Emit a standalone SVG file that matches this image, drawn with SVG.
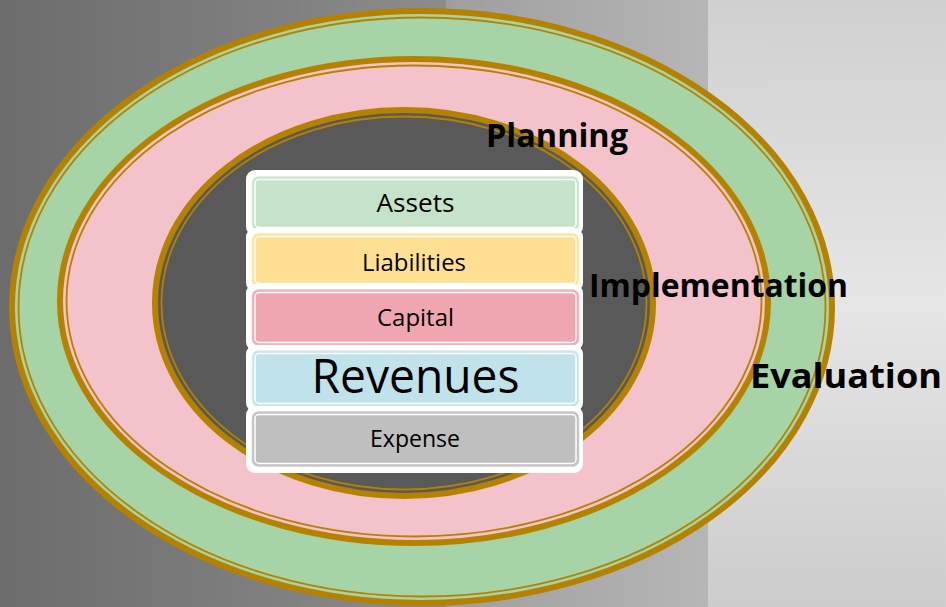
<svg xmlns="http://www.w3.org/2000/svg" width="946" height="607" viewBox="0 0 946 607">
<defs>
<linearGradient id="bg1" x1="0" y1="0" x2="1" y2="0">
<stop offset="0" stop-color="#6c6c6c"/><stop offset="1" stop-color="#8c8c8c"/>
</linearGradient>
<linearGradient id="bg2" x1="0" y1="0" x2="1" y2="0">
<stop offset="0" stop-color="#9e9e9e"/><stop offset="1" stop-color="#b6b6b6"/>
</linearGradient>
<linearGradient id="bg3" x1="0" y1="0" x2="0" y2="1">
<stop offset="0" stop-color="#d0d0d0"/><stop offset="0.5" stop-color="#e6e6e6"/><stop offset="1" stop-color="#cccccc"/>
</linearGradient>
<style>
.thick{fill:none;stroke:#b58200;stroke-width:6}
.thin{fill:none;stroke:#b58200;stroke-width:1.8}
.wbox{fill:#ffffff}
.lbl{font-family:"Open Sans","Noto Sans",sans-serif;fill:#000;text-anchor:middle}
.big{font-family:"Open Sans","Noto Sans",sans-serif;font-weight:bold;fill:#000}
.inner{stroke:#ffffff;stroke-width:1.5}
</style>
</defs>
<rect x="0" y="0" width="446" height="607" fill="url(#bg1)"/>
<rect x="446" y="0" width="262" height="607" fill="url(#bg2)"/>
<rect x="708" y="0" width="238" height="607" fill="url(#bg3)"/>

<g id="evaluation-ring">
<ellipse cx="422" cy="307" rx="410" ry="296" fill="#a6d4a6"/>
<ellipse class="thick" cx="422" cy="307" rx="410" ry="296"/>
<ellipse class="thin" cx="422" cy="307" rx="403.5" ry="289.5"/>
</g>
<g id="implementation-ring">
<ellipse cx="414" cy="301" rx="354" ry="242" fill="#f4c2ca"/>
<ellipse class="thick" cx="414" cy="301" rx="354" ry="242"/>
<ellipse class="thin" cx="414" cy="301" rx="347.5" ry="235.5"/>
</g>
<g id="planning-ring">
<ellipse cx="404" cy="303" rx="249" ry="193" fill="#595959"/>
<ellipse class="thick" cx="404" cy="303" rx="249" ry="193"/>
<ellipse class="thin" cx="404" cy="303" rx="242.5" ry="186.5"/>
</g>

<g id="assets">
<rect class="wbox" x="246" y="170" width="337" height="66" rx="9"/>
<rect x="252.5" y="177" width="326" height="53" rx="6" fill="#c5e3c8" stroke="#cfe8d1" stroke-width="1.5"/>
<rect class="inner" x="255" y="179.5" width="321" height="48" rx="4" fill="#c5e3c8"/>
<text class="lbl" x="415.5" y="212" font-size="26" textLength="78" lengthAdjust="spacingAndGlyphs">Assets</text>
</g>
<g id="liabilities">
<rect class="wbox" x="246" y="228" width="337" height="64" rx="9"/>
<rect x="252.5" y="234" width="326" height="52" rx="6" fill="#ffe092" stroke="#ffe5a4" stroke-width="1.5"/>
<rect class="inner" x="255" y="236.5" width="321" height="47" rx="4" fill="#ffe092"/>
<text class="lbl" x="414" y="271" font-size="24" textLength="104" lengthAdjust="spacingAndGlyphs">Liabilities</text>
</g>
<g id="capital">
<rect class="wbox" x="246" y="284" width="337" height="67" rx="9"/>
<rect x="252.5" y="290" width="326" height="55" rx="6" fill="#f0a6b0" stroke="#f4b8c0" stroke-width="1.5"/>
<rect class="inner" x="255" y="292.5" width="321" height="50" rx="4" fill="#f0a6b0"/>
<text class="lbl" x="415.5" y="326" font-size="24" textLength="77" lengthAdjust="spacingAndGlyphs">Capital</text>
</g>
<g id="revenues">
<rect class="wbox" x="246" y="345" width="337" height="67" rx="9"/>
<rect x="252.5" y="351" width="326" height="55" rx="6" fill="#c0e2eb" stroke="#cfe9f0" stroke-width="1.5"/>
<rect class="inner" x="255" y="353.5" width="321" height="50" rx="4" fill="#c0e2eb"/>
<text class="lbl" x="415.5" y="393" font-size="48" textLength="208" lengthAdjust="spacingAndGlyphs">Revenues</text>
</g>
<g id="expense">
<rect class="wbox" x="246" y="406" width="337" height="67" rx="9"/>
<rect x="252.5" y="412" width="326" height="54" rx="6" fill="#bfbfbf" stroke="#c8c8c8" stroke-width="1.5"/>
<rect class="inner" x="255" y="414.5" width="321" height="49" rx="4" fill="#bfbfbf"/>
<text class="lbl" x="415" y="447" font-size="23" textLength="90" lengthAdjust="spacingAndGlyphs">Expense</text>
</g>

<g id="labels">
<text class="big" x="486" y="147" font-size="32" textLength="142" lengthAdjust="spacingAndGlyphs">Planning</text>
<text class="big" x="589" y="297" font-size="33" textLength="259" lengthAdjust="spacingAndGlyphs">Implementation</text>
<text class="big" x="750" y="388" font-size="34" textLength="192" lengthAdjust="spacingAndGlyphs">Evaluation</text>
</g>
</svg>
